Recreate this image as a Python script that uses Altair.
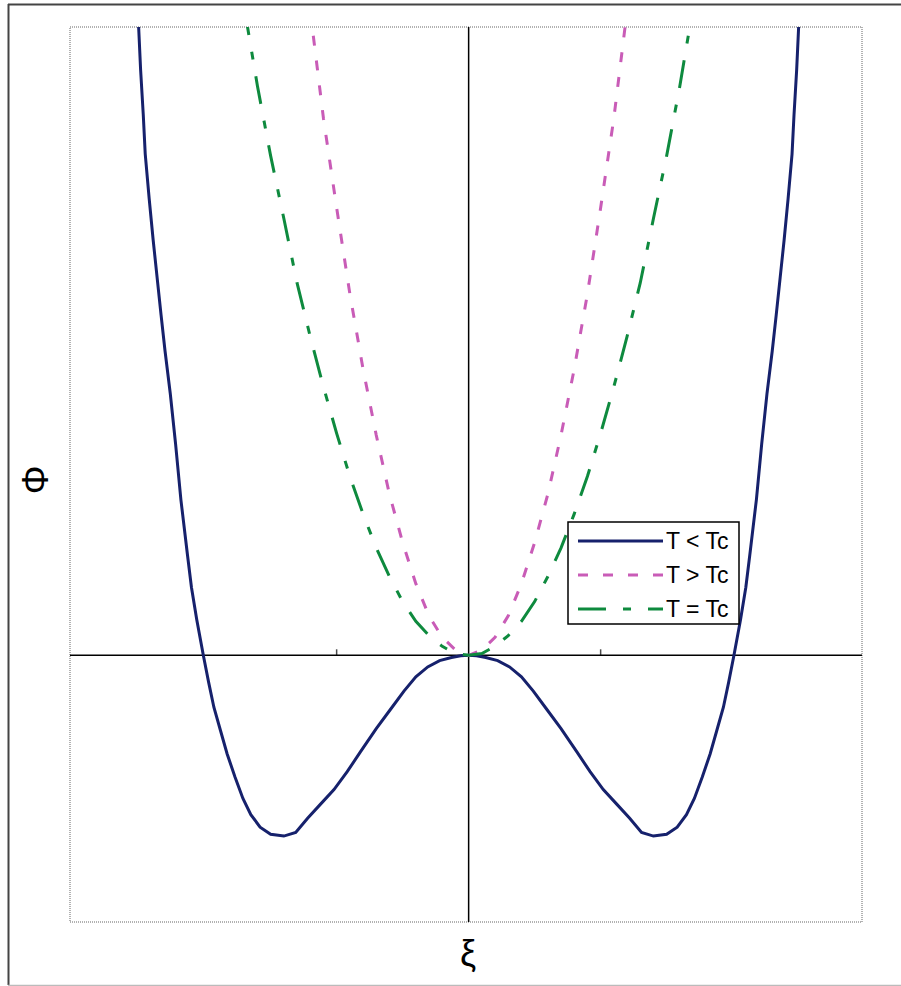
import altair as alt
import pandas as pd

# Landau free energy Phi(xi) for three temperatures
XI_BELOW = [-2.52, -2.50, -2.485, -2.465, -2.45, -2.42, -2.39, -2.36, -2.33, -2.30,
            -2.26, -2.22, -2.18, -2.13, -2.10, -2.06, -2.01, -1.97, -1.93, -1.88,
            -1.83, -1.77, -1.71, -1.65, -1.58, -1.50, -1.40, -1.31, -1.22, -1.12,
            -1.02, -0.92, -0.82, -0.70, -0.59, -0.49, -0.40, -0.31, -0.22, -0.13,
            -0.06, 0.00,
            0.06, 0.13, 0.22, 0.31, 0.40, 0.49, 0.59, 0.70, 0.82, 0.92,
            1.02, 1.12, 1.22, 1.31, 1.40, 1.50, 1.58, 1.65, 1.71, 1.77,
            1.83, 1.88, 1.93, 1.97, 2.01, 2.06, 2.10, 2.13, 2.18, 2.22,
            2.26, 2.30, 2.33, 2.36, 2.39, 2.42, 2.45, 2.465, 2.485, 2.50, 2.52]
PHI_BELOW = [3.65, 3.51, 3.27, 3.02, 2.80, 2.55, 2.32, 2.11, 1.90, 1.70,
             1.46, 1.18, 0.87, 0.56, 0.38, 0.20, 0.00, -0.15, -0.29, -0.42,
             -0.55, -0.68, -0.80, -0.89, -0.96, -1.00, -1.01, -0.99, -0.91, -0.83,
             -0.75, -0.65, -0.54, -0.41, -0.30, -0.20, -0.12, -0.065, -0.03, -0.012,
             -0.003, 0.00,
             -0.003, -0.012, -0.03, -0.065, -0.12, -0.20, -0.30, -0.41, -0.54, -0.65,
             -0.75, -0.83, -0.91, -0.99, -1.01, -1.00, -0.96, -0.89, -0.80, -0.68,
             -0.55, -0.42, -0.29, -0.15, 0.00, 0.20, 0.38, 0.56, 0.87, 1.18,
             1.46, 1.70, 1.90, 2.11, 2.32, 2.55, 2.80, 3.02, 3.27, 3.51, 3.65]

XI_ABOVE = [-1.2, -1.1, -1.0, -0.9, -0.8, -0.7, -0.6, -0.5, -0.4, -0.3, -0.2, -0.1, 0.0,
            0.1, 0.2, 0.3, 0.4, 0.5, 0.6, 0.7, 0.8, 0.9, 1.0, 1.1, 1.2]
PHI_ABOVE = [3.60, 3.00, 2.50, 2.02, 1.60, 1.23, 0.90, 0.63, 0.40, 0.22, 0.10, 0.03, 0.00,
             0.03, 0.10, 0.22, 0.40, 0.63, 0.90, 1.23, 1.60, 2.02, 2.50, 3.00, 3.60]

XI_CRIT = [-1.7, -1.6, -1.5, -1.4, -1.3, -1.2, -1.1, -1.0, -0.9, -0.8, -0.7, -0.6,
           -0.5, -0.4, -0.3, -0.2, -0.1, 0.0, 0.1, 0.2, 0.3, 0.4, 0.5, 0.6,
           0.7, 0.8, 0.9, 1.0, 1.1, 1.2, 1.3, 1.4, 1.5, 1.6, 1.7]
PHI_CRIT = [3.62, 3.18, 2.79, 2.44, 2.08, 1.78, 1.50, 1.24, 1.00, 0.79, 0.60, 0.44,
            0.30, 0.19, 0.11, 0.05, 0.01, 0.00, 0.01, 0.05, 0.11, 0.19, 0.30, 0.44,
            0.60, 0.79, 1.00, 1.24, 1.50, 1.78, 2.08, 2.44, 2.79, 3.18, 3.62]

SERIES = ["T < Tc", "T > Tc", "T = Tc"]
COLORS = ["#16216c", "#c95cb7", "#0e8a3e"]
DASHES = [[1, 0], [10, 15], [28, 17, 8, 17]]

TICKS_XI = [-1, 1]

X_DOMAIN = [-3.02, 2.98]
Y_DOMAIN = [-1.49, 3.51]
W, H = 792, 895

xs = alt.Scale(domain=X_DOMAIN, nice=False, zero=False)
ys = alt.Scale(domain=Y_DOMAIN, nice=False, zero=False)


def curve(xi, phi, i):
    df = pd.DataFrame({"xi": xi, "phi": phi, "order": list(range(len(xi)))})
    mark_kw = dict(color=COLORS[i], strokeWidth=3, clip=True)
    if DASHES[i] != [1, 0]:
        mark_kw["strokeDash"] = DASHES[i]
    return alt.Chart(df).mark_line(**mark_kw).encode(
        x=alt.X("xi:Q", scale=xs, axis=None),
        y=alt.Y("phi:Q", scale=ys, axis=None),
        order="order:Q",
    )


origin = alt.Chart(pd.DataFrame({"xi": [0.0], "phi": [0.0]}))
tick_data = alt.Chart(pd.DataFrame({"xi": TICKS_XI, "phi": [0.0] * len(TICKS_XI)}))
blank = alt.Chart(pd.DataFrame({"k": [0]}))

zero_v = origin.mark_rule(color="black", strokeWidth=1.5).encode(
    x=alt.X("xi:Q", scale=xs, axis=None))
zero_h = origin.mark_rule(color="black", strokeWidth=1.5).encode(
    y=alt.Y("phi:Q", scale=ys, axis=None))
ticks = tick_data.mark_tick(orient="vertical", size=6, thickness=1.5, yOffset=-3,
                            color="black").encode(
    x=alt.X("xi:Q", scale=xs, axis=None),
    y=alt.Y("phi:Q", scale=ys, axis=None),
)

# outer frame of the figure
frame_top = blank.mark_rule(color="#444444", strokeWidth=2).encode(
    x=alt.value(-62), x2=alt.value(832), y=alt.value(-22.5))
frame_left = blank.mark_rule(color="#444444", strokeWidth=2).encode(
    x=alt.value(-61.5), y=alt.value(-23), y2=alt.value(958))
frame_bottom = blank.mark_rule(color="#bbbbbb", strokeWidth=1.5).encode(
    x=alt.value(-62), x2=alt.value(832), y=alt.value(958.5))

# axis titles
phi_label = blank.mark_text(text="Φ", font="Liberation Sans", fontSize=36,
                            angle=270, align="center", baseline="middle").encode(
    x=alt.value(-33), y=alt.value(453))
xi_label = blank.mark_text(text="ξ", font="Liberation Sans", fontSize=36,
                           align="center", baseline="middle").encode(
    x=alt.value(398), y=alt.value(928))

# legend box
LEG_X, LEG_Y, LEG_W, LEG_H = 498, 495, 171, 102
legend_box = blank.mark_rect(fill="white", stroke="black", strokeWidth=1.5).encode(
    x=alt.value(LEG_X), x2=alt.value(LEG_X + LEG_W),
    y=alt.value(LEG_Y), y2=alt.value(LEG_Y + LEG_H))

legend_layers = []
for i, name in enumerate(SERIES):
    row_y = LEG_Y + 19 + 34 * i
    rule_kw = dict(color=COLORS[i], strokeWidth=3)
    if DASHES[i] != [1, 0]:
        rule_kw["strokeDash"] = DASHES[i]
    legend_layers.append(blank.mark_rule(**rule_kw).encode(
        x=alt.value(LEG_X + 10), x2=alt.value(LEG_X + 95), y=alt.value(row_y)))
    legend_layers.append(blank.mark_text(text=name, font="Liberation Sans", fontSize=23,
                                         align="left", baseline="middle",
                                         color="black").encode(
        x=alt.value(LEG_X + 98), y=alt.value(row_y + 1)))

chart = alt.layer(
    frame_top, frame_left, frame_bottom,
    zero_v, zero_h, ticks,
    curve(XI_BELOW, PHI_BELOW, 0),
    curve(XI_ABOVE, PHI_ABOVE, 1),
    curve(XI_CRIT, PHI_CRIT, 2),
    legend_box, *legend_layers,
    phi_label, xi_label,
).properties(
    width=W, height=H,
    padding={"left": 70, "top": 27, "right": 39, "bottom": 64},
    autosize="none",
    background="white",
).configure_view(
    stroke="#999999", strokeWidth=1.5, strokeDash=[1, 1]
)

chart.save("out.html", embed_options={"renderer": "svg", "actions": False})
